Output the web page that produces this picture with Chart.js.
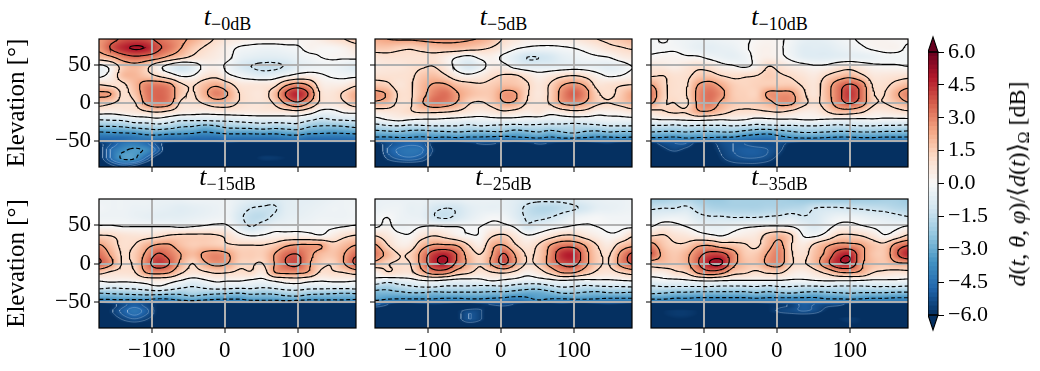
<!DOCTYPE html>
<html><head><meta charset="utf-8">
<style>
html,body{margin:0;padding:0;background:#fff;width:1040px;height:371px;overflow:hidden}
#root{position:relative;width:1040px;height:371px;font-family:"Liberation Serif",serif;color:#000}
.box{position:absolute}
.ttl{position:absolute;transform:translateX(-50%);font-size:20px;line-height:20px;white-space:nowrap}
.ttl i{font-size:26px}
.ttl sub{font-size:18px;vertical-align:-5px;line-height:0}
#cbt{position:absolute;left:1017px;top:184px;transform:translate(-50%,-50%) rotate(-90deg);font-size:24px;white-space:nowrap}
#cbt sub{font-size:16px;vertical-align:-4px;line-height:0}
</style>
<script src="https://cdn.jsdelivr.net/npm/chart.js@4"></script>
</head><body><div id="root"></div>
<script>
// azimuth of each grid column, elevation of each grid row (degrees)
const azimuthCols=[-172,-156,-140,-124,-108,-92,-76,-60,-44,-28,-12,4,20,36,52,68,84,100,116,132,148,164,180];
const elevationRows=[84,72,60,48,36,24,12,0,-12,-22,-30,-38,-46,-51,-53,-62,-72,-84];
const xTicks=[-100,0,100];
const yTicks=[-50,0,50];
const contourLevels=[-3.6,-2.4,-1.2,0,1.2,2.4,3.6,4.8];
const faintLevels=[-5.7,-5.2,-4.7];
const cbTicks=[-6,-4.5,-3,-1.5,0,1.5,3,4.5,6];
const cbEdges=[-6,-5.8,-5.6,-5.4,-5.2,-5,-4.8,-4.6,-4.4,-4.2,-4,-3.8,-3.6,-3.4,-3.2,-3,-2.8,-2.6,-2.4,-2.2,-2,-1.8,-1.6,-1.4,-1.2,-1,-.8,-.6,-.4,-.2,0,.2,.4,.6,.8,1,1.2,1.4,1.6,1.8,2,2.2,2.4,2.6,2.8,3,3.2,3.4,3.6,3.8,4,4.2,4.4,4.6,4.8,5,5.2,5.4,5.6,5.8,6];
const panelLabels=["\u22120dB","\u22125dB","\u221210dB","\u221215dB","\u221225dB","\u221235dB"];
const D=-66; // below the colour range
// Values in tenths of a dB, one row per elevation, one column per azimuth
const t0dB=[
[26,32,38,40,39,34,30,26,22,16,11,7,5,3,3,3,3,2,2,5,9,12,16],
[26,37,45,49,47,38,32,24,16,11,7,3,-1,-2,-3,-3,-2,-1,2,1,1,3,7],
[18,22,30,34,32,28,21,15,10,7,5,2,-4,-6,-7,-7,-6,-4,-2,0,1,1,2],
[-3,3,16,20,15,4,-4,-10,-6,2,3,-2,-8,-12,-14,-14,-11,-6,-4,-3,-3,-5,-8],
[-2,4,18,20,16,11,5,-1,0,7,9,2,-2,-5,-7,-5,-1,3,4,1,-1,-2,-2],
[12,10,10,19,29,31,27,14,11,18,22,16,8,7,7,9,22,28,22,6,4,5,10],
[26,24,10,16,30,35,31,16,11,21,30,24,12,8,8,18,37,46,34,10,8,14,22],
[16,13,9,11,26,32,28,10,9,13,18,17,11,8,8,13,26,34,23,9,7,11,18],
[4,3,5,7,10,12,9,5,4,3,4,5,5,5,6,6,7,8,4,-3,-3,1,2],
[-12,-11,-10,-6,-5,-3,-6,-10,-10,-10,-9,-9,-8,-7,-7,-7,-6,-6,-10,-14,-12,-11,-10],
[-23,-23,-22,-19,-18,-16,-18,-22,-23,-26,-24,-20,-19,-18,-16,-18,-17,-16,-22,-24,-24,-23,-21],
[-36,-35,-34,-33,-30,-29,-31,-32,-33,-36,-34,-32,-32,-32,-31,-32,-30,-29,-32,-33,-34,-33,-32],
[-46,-46,-46,-44,-42,-42,-44,-44,-46,-46,-46,-44,-44,-44,-44,-44,-42,-42,-45,-45,-45,-45,-44],
[-50,-48,-46,-44,-46,-48,-50,-50,-50,-50,-50,-50,-50,-50,-50,-50,-50,-50,-50,-50,-50,-50,-50],
[-58,-52,-44,-42,-46,-54,-62,D,D,D,D,-60,D,D,D,D,D,D,D,D,D,D,D],
[-60,-46,-38,-34,-38,-50,D,D,D,D,D,D,D,D,D,D,D,D,D,D,D,D,D],
[-60,-46,-34,-34,-48,-62,D,D,D,D,D,D,D,-62,-58,-58,-60,-64,D,D,D,D,D],
[D,-60,-56,-60,D,D,D,D,D,D,D,D,D,D,D,D,D,D,D,D,D,D,D]];
const t5dB=[
[22,24,25,25,26,27,27,26,25,23,18,11,7,4,4,4,4,6,9,12,14,17,20],
[16,16,14,13,15,17,18,18,16,14,11,6,1,-1,-2,-2,-1,0,2,5,9,11,13],
[8,9,9,9,9,9,5,0,-3,2,3,-2,-7,-12,-12,-10,-6,-4,-2,-1,0,4,6],
[6,7,7,9,11,12,6,-3,-9,-4,4,3,-3,-6,-6,-6,-5,-4,-4,-5,-6,-4,0],
[9,9,9,10,16,18,13,5,2,5,10,13,13,8,3,6,10,12,9,3,-1,0,3],
[16,14,8,11,19,25,25,18,15,13,15,18,17,13,7,13,23,27,22,9,9,11,12],
[27,23,11,11,20,30,33,25,19,16,17,26,25,13,7,14,28,36,28,14,10,15,23],
[22,19,10,11,23,32,30,23,13,11,15,23,22,11,8,13,25,28,23,14,12,15,20],
[6,7,8,11,13,13,12,10,7,5,7,10,8,5,7,3,6,9,8,3,3,4,7],
[-3,0,2,0,-1,-1,-2,-3,-4,-4,-3,-3,-3,-4,-5,-6,-5,-5,-5,-4,-3,-3,-3],
[-16,-13,-12,-14,-13,-12,-12,-12,-14,-12,-13,-14,-15,-14,-14,-15,-15,-16,-15,-14,-12,-12,-12],
[-27,-26,-25,-27,-28,-26,-25,-24,-25,-26,-25,-25,-28,-26,-24,-27,-24,-22,-25,-26,-24,-25,-25],
[-38,-38,-37,-37,-38,-37,-38,-37,-38,-38,-39,-40,-38,-37,-36,-38,-36,-36,-37,-38,-38,-37,-38],
[-50,-48,-46,-46,-47,-50,-50,-50,-48,-48,-50,-50,-50,-48,-48,-50,-50,-50,-50,-48,-48,-50,-50],
[-60,-54,-50,-48,-50,-60,D,D,-60,-56,-56,-60,D,-60,-56,-58,-62,D,D,-60,-58,-62,D],
[D,-52,-46,-44,-46,-58,D,D,D,D,D,D,D,D,D,D,D,D,D,D,D,D,D],
[D,-56,-50,-48,-52,-62,D,D,D,D,D,D,D,D,D,D,D,D,D,D,D,D,D],
[D,D,D,D,D,D,D,D,D,D,D,D,D,D,D,D,D,D,D,D,D,D,D]];
const t10dB=[
[-2,1,-2,-3,-4,-4,-3,-2,-1,1,2,1,-2,-5,-6,-5,-3,-1,1,2,2,1,1],
[-1,-1,-1,-3,-5,-6,-5,-4,-1,2,3,1,-3,-7,-7,-7,-5,-3,-1,1,2,2,-1],
[1,2,2,1,1,-2,-4,-5,-3,2,4,2,-2,-6,-7,-7,-6,-5,-5,-4,-2,-2,-2],
[7,6,4,7,10,8,3,1,-1,3,12,9,5,3,1,2,6,8,5,2,1,1,0],
[11,12,9,10,15,16,12,10,11,12,15,13,11,8,6,12,17,20,14,7,7,8,9],
[24,14,10,11,24,28,22,15,13,14,15,15,15,11,8,18,30,37,30,11,10,15,19],
[31,15,10,12,27,33,27,16,14,14,26,27,26,14,8,19,32,43,33,13,12,22,30],
[25,13,12,10,26,31,22,16,14,15,20,27,26,15,10,17,30,37,30,14,12,17,23],
[8,11,13,13,22,22,16,11,10,10,11,12,9,5,5,11,17,17,13,6,6,8,10],
[-1,0,0,1,2,1,0,1,0,-3,-2,-1,-1,0,0,-1,-2,-2,-2,-1,-2,-2,-2],
[-13,-13,-14,-12,-13,-13,-13,-12,-13,-15,-14,-13,-13,-12,-12,-13,-14,-13,-12,-12,-13,-13,-14],
[-24,-25,-25,-24,-25,-25,-24,-24,-27,-30,-31,-28,-25,-23,-23,-24,-25,-25,-24,-24,-25,-25,-26],
[-37,-37,-38,-36,-37,-37,-38,-38,-41,-43,-44,-40,-37,-36,-36,-37,-38,-38,-37,-37,-38,-38,-38],
[-48,-46,-46,-46,-47,-52,-50,-48,-48,-50,-50,-48,-48,-50,-50,-50,-50,-50,-50,-50,-50,-50,-50],
[-60,-54,-52,-52,-60,-60,-54,-52,-52,-54,-54,-54,-60,D,D,D,D,D,D,D,D,D,D],
[D,-60,-56,-60,-64,-62,-56,-52,-50,-50,-52,-56,-64,D,D,D,D,D,D,D,D,D,D],
[D,D,D,D,D,D,-58,-54,-52,-52,-54,-60,D,D,D,D,D,D,D,D,D,D,D],
[D,D,D,D,D,D,-62,-60,-60,-60,-62,D,D,D,D,D,D,D,D,D,D,D,D]];
const t15dB=[
[-3,-3,-3,-3,-3,-4,-4,-4,-3,-3,-3,-3,-5,-7,-8,-9,-7,-6,-6,-5,-4,-3,-3],
[-2,-3,-3,-4,-4,-5,-6,-7,-6,-5,-4,-3,-8,-12,-13,-13,-7,-6,-5,-4,-3,-3,-2],
[-3,-3,-3,-4,-5,-6,-6,-6,-5,-4,-3,-3,-10,-15,-15,-10,-6,-5,-4,-3,-3,-3,-2],
[1,1,0,0,0,0,0,-1,0,1,2,1,-6,-12,-7,-3,-3,-2,-2,-1,-1,0,1],
[13,12,9,8,8,10,13,14,14,14,13,10,3,0,1,3,4,4,3,1,5,10,13],
[25,17,10,12,20,25,25,18,15,16,15,13,12,12,12,15,22,25,25,24,15,19,24],
[33,22,11,15,26,37,32,24,19,26,29,25,16,15,15,24,34,36,27,19,17,24,34],
[36,26,11,14,30,42,36,21,12,22,27,24,14,13,12,24,36,38,25,15,13,24,38],
[15,10,9,11,24,27,24,13,8,10,13,12,10,11,6,23,26,26,22,10,11,12,16],
[1,3,2,3,5,6,4,0,-4,-1,2,1,1,-1,-2,2,5,6,3,1,2,2,1],
[-6,-9,-8,-7,-4,-1,-4,-9,-12,-9,-6,-7,-8,-8,-10,-8,-5,-5,-7,-7,-7,-7,-6],
[-23,-22,-21,-20,-19,-18,-20,-21,-18,-20,-21,-22,-23,-21,-22,-21,-18,-17,-20,-21,-22,-23,-22],
[-34,-34,-33,-33,-33,-36,-35,-31,-30,-32,-34,-35,-35,-32,-32,-32,-30,-30,-33,-33,-33,-33,-34],
[-50,-46,-46,-46,-48,-50,-48,-46,-44,-46,-48,-48,-46,-44,-44,-44,-44,-46,-46,-44,-46,-46,-48],
[D,-60,-54,-50,-54,-60,-64,D,D,D,D,D,D,D,D,D,D,D,D,D,D,D,D],
[D,-58,-50,-44,-50,-60,D,D,D,D,D,D,D,D,D,D,D,D,D,D,-60,D,D],
[D,-62,-56,-52,-56,-62,D,D,D,D,D,D,D,D,D,D,D,D,D,D,-60,D,D],
[D,D,D,D,D,D,D,D,D,D,D,D,D,D,D,D,D,D,D,D,D,D,D]];
const t25dB=[
[-4,-4,-4,-4,-4,-5,-5,-5,-4,-4,-4,-5,-7,-9,-10,-10,-10,-8,-6,-5,-4,-4,-3],
[-4,-3,-3,-5,-5,-10,-12,-11,-7,-5,-5,-5,-8,-14,-17,-17,-15,-13,-10,-6,-5,-4,-3],
[-2,0,-3,-4,-5,-11,-13,-10,-6,-3,-1,-2,-7,-13,-14,-12,-8,-4,-2,-1,-2,-2,-2],
[-1,2,-3,-2,0,1,0,0,-1,0,2,2,-1,-10,-6,-3,-1,1,1,0,-1,-1,-1],
[12,7,2,1,8,12,9,4,1,1,11,14,7,1,3,8,13,13,8,4,1,3,11],
[25,13,5,6,19,25,25,23,12,5,21,24,13,7,13,24,31,31,23,12,6,16,21],
[31,21,12,14,28,42,46,35,19,12,24,37,23,11,15,28,44,46,28,15,11,26,38],
[20,13,11,12,28,44,48,33,21,13,26,38,24,11,15,28,38,40,27,15,12,27,37],
[3,11,9,9,20,29,28,18,13,8,11,13,9,3,7,15,24,24,17,10,8,12,16],
[-2,-7,-5,-3,0,1,-1,-3,-3,-2,1,-1,-3,-5,-4,-2,0,-1,-2,-1,-1,0,1],
[-18,-20,-16,-13,-11,-11,-13,-13,-13,-14,-14,-13,-16,-18,-18,-14,-11,-12,-14,-13,-12,-12,-11],
[-27,-27,-26,-24,-24,-26,-25,-25,-25,-25,-26,-26,-28,-30,-30,-27,-23,-23,-25,-26,-24,-24,-25],
[-32,-35,-36,-36,-36,-36,-37,-37,-36,-36,-37,-38,-40,-38,-34,-36,-36,-35,-35,-36,-37,-37,-37],
[-42,-45,-46,-46,-46,-48,-48,-47,-46,-46,-46,-46,-48,-46,-44,-46,-46,-46,-46,-46,-46,-46,-46],
[-50,-56,D,D,-60,-58,-60,D,D,-60,-56,-54,-58,D,D,D,-60,D,D,-60,-58,-60,D],
[D,D,D,D,D,D,D,-60,-54,-56,D,D,D,D,D,D,D,D,D,D,D,D,D],
[D,D,D,D,D,D,D,-60,-52,-56,D,D,D,D,D,D,D,D,D,D,D,D,D],
[D,D,D,D,D,D,D,D,D,D,D,D,D,D,D,D,D,D,D,D,D,D,D]];
const t35dB=[
[-20,-20,-18,-18,-20,-22,-22,-20,-20,-20,-20,-20,-21,-22,-22,-22,-22,-22,-21,-21,-20,-20,-22],
[-13,-12,-12,-10,-15,-18,-19,-19,-19,-19,-18,-18,-17,-16,-12,-11,-11,-12,-13,-14,-15,-17,-18],
[-6,-4,-3,-4,-9,-11,-11,-12,-12,-12,-11,-10,-8,-11,-10,-6,-3,-3,-4,-6,-7,-9,-11],
[0,4,2,0,-3,-5,-5,-3,-1,0,1,1,0,-4,-8,-3,2,3,1,-1,-3,-2,1],
[12,13,9,7,4,2,0,3,5,7,16,20,13,0,-1,4,13,14,12,7,1,6,14],
[28,17,13,14,22,23,18,16,13,10,20,27,12,6,14,22,27,27,24,17,15,28,35],
[36,21,16,21,32,40,40,29,16,16,25,30,13,9,18,27,42,46,28,17,17,34,46],
[17,18,16,21,35,48,49,28,18,17,26,28,13,11,18,32,45,46,26,18,16,22,23],
[5,5,10,13,25,31,27,16,13,10,13,13,6,4,8,14,22,24,21,12,10,8,9],
[-4,-2,-2,-1,1,2,1,0,0,0,0,0,-1,-1,0,1,1,1,0,-1,-1,-1,-2],
[-13,-12,-12,-12,-12,-12,-13,-13,-13,-12,-14,-12,-12,-13,-13,-12,-13,-13,-13,-12,-12,-12,-13],
[-22,-23,-25,-25,-26,-26,-26,-26,-26,-24,-26,-24,-23,-25,-26,-25,-24,-23,-24,-24,-24,-25,-25],
[-35,-35,-37,-37,-38,-38,-38,-38,-38,-37,-38,-38,-38,-38,-38,-36,-36,-35,-36,-37,-37,-38,-38],
[-46,-46,-46,-46,-46,-46,-46,-46,-46,-46,-46,-44,-42,-42,-42,-42,-44,-46,-46,-46,-46,-46,-46],
[D,D,D,D,D,D,D,D,D,D,-60,-58,-56,-50,-52,-54,-54,-60,D,D,D,D,D],
[D,-60,-58,-58,-60,D,D,D,D,D,-60,-56,-54,-52,-54,-60,D,D,D,D,D,D,D],
[D,-62,-60,-60,-62,D,D,D,D,D,D,D,D,D,D,D,-60,-58,-60,D,D,D,D],
[D,D,D,D,D,D,D,D,D,D,D,D,D,D,D,D,D,-62,-62,D,D,D,D]];
const panelFields=[t0dB,t5dB,t10dB,t15dB,t25dB,t35dB];

const RdBu=[[5,48,97],[33,102,172],[67,147,195],[146,197,222],[209,229,240],[247,247,247],[253,219,199],[244,165,130],[214,96,77],[178,24,43],[103,0,31]];
function cmap(v){let t=(Math.max(-6,Math.min(6,v))+6)/12*10,i=Math.min(9,Math.floor(t)),f=t-i,a=RdBu[i],b=RdBu[i+1];return [0,1,2].map(k=>a[k]+(b[k]-a[k])*f);}
// Smooth rendering between the read values; the sharp drop at the lower edge stays monotone.
function cr(a,b,c,d,t,mono){const r=0.5*((2*b)+(c-a)*t+(2*a-5*b+4*c-d)*t*t+(3*b-a-3*c+d)*t*t*t);if(!mono)return r;const lo=Math.min(b,c),hi=Math.max(b,c);return Math.max(lo,Math.min(hi,r));}
function sampler(F){
  const nr=F.length,nc=F[0].length;
  const cl=(v,n)=>Math.max(0,Math.min(n-1,v));
  return function(ci,ri){
    const i=cl(Math.floor(ci),nc-1),j=cl(Math.floor(ri),nr-1),u=ci-i,w=ri-j;
    const col=k=>{const c=cl(k,nc);return cr(F[cl(j-1,nr)][c],F[j][c],F[cl(j+1,nr)][c],F[cl(j+2,nr)][c],w,j>=11);};
    return cr(col(i-1),col(i),col(i+1),col(i+2),u,false)/10;
  };
}
const colIndex=x=>{const n=azimuthCols.length;if(x<=azimuthCols[0])return 0;if(x>=azimuthCols[n-1])return n-1;let i=0;while(azimuthCols[i+1]<x)i++;return i+(x-azimuthCols[i])/(azimuthCols[i+1]-azimuthCols[i]);};
const rowIndex=y=>{const R=elevationRows,n=R.length;if(y>=R[0])return 0;if(y<=R[n-1])return n-1;let j=0;while(R[j+1]>y)j++;return j+(R[j]-y)/(R[j]-R[j+1]);};
const lerpIdx=(A,f)=>{const i=Math.min(A.length-2,Math.floor(f));return A[i]+(A[i+1]-A[i])*(f-i);};

function contour(s,level,minRow){
  const SUB=6,nx=(azimuthCols.length-1)*SUB+1,ny=(elevationRows.length-1)*SUB+1,Z=[];
  for(let j=0;j<ny;j++){const r=[];for(let i=0;i<nx;i++)r.push(s(i/SUB,j/SUB));Z.push(r);}
  const pt={},adj=new Map();
  const link=(a,b)=>{(adj.get(a)||adj.set(a,[]).get(a)).push(b);(adj.get(b)||adj.set(b,[]).get(b)).push(a);};
  const X=i=>lerpIdx(azimuthCols,i/SUB),Y=j=>lerpIdx(elevationRows,j/SUB);
  const eH=(j,i)=>{const k='h'+j+'_'+i;if(!pt[k]){const t=(level-Z[j][i])/(Z[j][i+1]-Z[j][i]);pt[k]={x:X(i+t),y:Y(j)};}return k;};
  const eV=(j,i)=>{const k='v'+j+'_'+i;if(!pt[k]){const t=(level-Z[j][i])/(Z[j+1][i]-Z[j][i]);pt[k]={x:X(i),y:Y(j+t)};}return k;};
  for(let j=minRow*SUB;j<ny-1;j++)for(let i=0;i<nx-1;i++){
    const a=Z[j][i]>=level,b=Z[j][i+1]>=level,c=Z[j+1][i+1]>=level,d=Z[j+1][i]>=level;
    const e=[];
    if(a!==b)e.push(eH(j,i));
    if(b!==c)e.push(eV(j,i+1));
    if(c!==d)e.push(eH(j+1,i));
    if(d!==a)e.push(eV(j,i));
    if(e.length===2)link(e[0],e[1]);
    else if(e.length===4){link(e[0],e[3]);link(e[1],e[2]);}
  }
  const out=[],seen=new Set();
  const walk=st=>{let cur=st;seen.add(cur);out.push(pt[cur]);for(;;){const nx2=(adj.get(cur)||[]).find(k=>!seen.has(k));if(!nx2)break;seen.add(nx2);out.push(pt[nx2]);cur=nx2;}
    const first=(adj.get(st)||[]);if(first.length===2&&adj.get(cur).includes(st)&&cur!==st)out.push(pt[st]);out.push({x:NaN,y:NaN});};
  for(const [k,v] of adj)if(v.length===1&&!seen.has(k))walk(k);
  for(const k of adj.keys())if(!seen.has(k))walk(k);
  return out;
}

const heatPlugin=s=>({id:'heat',beforeDraw(ch){
  const a=ch.chartArea,w=Math.round(a.right-a.left),h=Math.round(a.bottom-a.top);
  const off=document.createElement('canvas');off.width=w;off.height=h;
  const oc=off.getContext('2d'),im=oc.createImageData(w,h);
  for(let py=0;py<h;py++){const ri=rowIndex(ch.scales.y.getValueForPixel(a.top+py+.5));
    for(let px=0;px<w;px++){const ci=colIndex(ch.scales.x.getValueForPixel(a.left+px+.5));
      const c=cmap(s(ci,ri)),o=(py*w+px)*4;im.data[o]=c[0];im.data[o+1]=c[1];im.data[o+2]=c[2];im.data[o+3]=255;}}
  oc.putImageData(im,0,0);ch.ctx.drawImage(off,a.left,a.top);
}});
const framePlugin={id:'frame',afterDraw(ch){const a=ch.chartArea,c=ch.ctx;c.save();c.strokeStyle='#000';c.lineWidth=1.2;c.strokeRect(a.left,a.top,a.right-a.left,a.bottom-a.top);c.restore();}};

const root=document.getElementById('root');
const FONT='"Liberation Serif",serif';
const plotX=[99,375,651],plotY=[39,199],plotW=257,plotH=[128,129];
function addCanvas(l,t,w,h){const d=document.createElement('div');d.className='box';d.style.cssText=`left:${l}px;top:${t}px;width:${w}px;height:${h}px`;const c=document.createElement('canvas');c.width=w;c.height=h;c.style.cssText=`display:block;width:${w}px;height:${h}px`;d.appendChild(c);root.appendChild(d);return c;}
const minus=v=>String(v).replace('-','\u2212');
const noPad=a=>{a.paddingTop=0;a.paddingBottom=0;a.paddingLeft=0;a.paddingRight=0;};

panelFields.forEach((F,n)=>{
  const col=n%3,row=n<3?0:1,s=sampler(F);
  const L=col===0?99:8,T=4,B=row===1?38:8;
  const W=L+plotW+3,H=T+plotH[row]+B;
  const cv=addCanvas(plotX[col]-L,plotY[row]-T,W,H);
  const ds=contourLevels.map(lv=>({type:'scatter',label:lv+' dB',data:contour(s,lv,0),showLine:true,spanGaps:false,pointRadius:0,borderColor:'#000',borderWidth:1.15,borderDash:lv<0?[4,2.5]:[],tension:0}));
  faintLevels.forEach(lv=>ds.push({type:'scatter',label:lv+' dB',data:contour(s,lv,14),showLine:true,spanGaps:false,pointRadius:0,borderColor:'rgba(190,215,235,.45)',borderWidth:.7,tension:0}));
  new Chart(cv,{type:'scatter',data:{datasets:ds},plugins:[heatPlugin(s),framePlugin],options:{
    responsive:false,animation:false,devicePixelRatio:1,
    layout:{padding:{top:T,right:3,left:0,bottom:0}},
    plugins:{legend:{display:false},tooltip:{enabled:false},title:{display:false}},
    scales:{
      x:{type:'linear',min:-172.5,max:180,afterBuildTicks:a=>{a.ticks=xTicks.map(v=>({value:v}));},afterFit:a=>{a.height=B;noPad(a);},
        border:{display:false},
        grid:{color:'#b0b0b0',lineWidth:2,tickColor:'#000',tickLength:5,tickWidth:1},
        ticks:{font:{family:FONT,size:23},color:'#000',padding:4,maxRotation:0,autoSkip:false,callback:v=>row===1?minus(v):''}},
      y:{type:'linear',min:-84,max:84,afterBuildTicks:a=>{a.ticks=yTicks.map(v=>({value:v}));},afterFit:a=>{a.width=L;noPad(a);},
        border:{display:false},
        title:{display:col===0,text:'Elevation [\u00b0]',font:{family:FONT,size:25},color:'#000',padding:{top:2,bottom:0}},
        grid:{color:'#b0b0b0',lineWidth:2,tickColor:'#000',tickLength:5,tickWidth:1},
        ticks:{font:{family:FONT,size:23},color:'#000',padding:3,autoSkip:false,callback:v=>col===0?minus(v):''}}
    }}});
  const t=document.createElement('div');t.className='ttl';
  t.style.left=(plotX[col]+plotW/2)+'px';t.style.top=(row===0?7:167)+'px';
  t.innerHTML='<i>t</i><sub>'+panelLabels[n]+'</sub>';root.appendChild(t);
});

// colour bar
(function(){
  const T=22,B=22,top=52,bot=315,L=928,w=10,R=70;
  const cv=addCanvas(L,top-T,w+R+2,bot-top+T+B);
  const ds=[];
  for(let i=0;i<cbEdges.length-1;i++){const lo=cbEdges[i],hi=cbEdges[i+1],c=cmap((lo+hi)/2),css=`rgb(${c.map(Math.round).join(',')})`;
    ds.push({label:lo+'',data:[[lo,hi]],backgroundColor:css,borderWidth:0,inflateAmount:.6,barPercentage:1,categoryPercentage:1});}
  const arrows={id:'arrows',afterDraw(ch){const a=ch.chartArea,c=ch.ctx,y=ch.scales.y;c.save();c.strokeStyle='#000';c.lineWidth=1.1;
    const tri=(v,dy,col)=>{const p=y.getPixelForValue(v);c.beginPath();c.moveTo(a.left,p);c.lineTo((a.left+a.right)/2,p+dy);c.lineTo(a.right,p);c.closePath();c.fillStyle=col;c.fill();c.stroke();};
    tri(6,-15,'#67001f');tri(-6,15,'#053061');c.strokeRect(a.left,a.top,a.right-a.left,a.bottom-a.top);c.restore();}};
  new Chart(cv,{type:'bar',data:{labels:['colour'],datasets:ds},plugins:[arrows],options:{
    responsive:false,animation:false,devicePixelRatio:1,
    layout:{padding:{top:T,bottom:B,left:0,right:2}},
    plugins:{legend:{display:false},tooltip:{enabled:false}},
    datasets:{bar:{grouped:false}},
    scales:{
      x:{display:false},
      y:{position:'right',type:'linear',min:-6,max:6,afterBuildTicks:a=>{a.ticks=cbTicks.map(v=>({value:v}));},afterFit:a=>{a.width=R;noPad(a);},
        border:{display:false},grid:{drawOnChartArea:false,tickColor:'#000',tickLength:6,tickWidth:1},
        ticks:{font:{family:FONT,size:22},color:'#000',padding:4,autoSkip:false,callback:v=>minus(v.toFixed(1))}}
    }}});
  const t=document.createElement('div');t.id='cbt';
  t.innerHTML='<i>d</i>(<i>t</i>, <i>\u03b8</i>, <i>\u03c6</i>)/\u27e8<i>d</i>(<i>t</i>)\u27e9<sub>\u03a9</sub> [dB]';root.appendChild(t);
})();
</script></body></html>
